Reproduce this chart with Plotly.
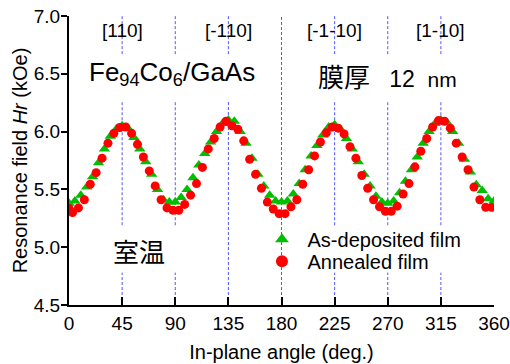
import plotly.graph_objects as go

# ---- data ----
asdep_angle = [0, 5, 10, 15, 20, 25, 30, 35, 40, 45, 50, 55, 60, 65, 70, 75, 80, 85, 90,
               95, 100, 105, 110, 115, 120, 125, 130, 135, 140, 145, 150, 155, 160, 165, 170, 175, 180,
               185, 190, 195, 200, 205, 210, 215, 220, 225, 230, 235, 240, 245, 250, 255, 260, 265, 270,
               275, 280, 285, 290, 295, 300, 305, 310, 315, 320, 325, 330, 335, 340, 345, 350, 355, 360]
asdep_hr = [5.38, 5.40, 5.45, 5.52, 5.61, 5.73, 5.85, 5.96, 6.02, 6.05, 6.03, 5.95, 5.85, 5.74, 5.63, 5.50, 5.41, 5.39, 5.39,
            5.43, 5.50, 5.60, 5.71, 5.81, 5.91, 6.00, 6.07, 6.10, 6.09, 6.00, 5.90, 5.77, 5.63, 5.53, 5.45, 5.40, 5.39,
            5.40, 5.46, 5.55, 5.67, 5.79, 5.88, 5.97, 6.04, 6.06, 6.02, 5.94, 5.85, 5.74, 5.63, 5.53, 5.44, 5.39, 5.38,
            5.40, 5.47, 5.57, 5.67, 5.78, 5.90, 6.00, 6.07, 6.10, 6.08, 6.00, 5.90, 5.76, 5.65, 5.54, 5.49, 5.42, 5.40]

anneal_angle = [0, 3, 8, 13, 18, 23, 28, 33, 38, 43, 48, 53, 58, 63, 68, 73, 78, 83, 88,
                93, 98, 103, 108, 113, 118, 123, 128, 133, 138, 143, 148, 153, 158, 163, 168, 173, 178,
                183, 188, 193, 198, 203, 208, 213, 218, 223, 228, 233, 238, 243, 248, 253, 258, 263, 268,
                273, 278, 283, 288, 293, 298, 303, 308, 313, 318, 323, 328, 333, 338, 343, 348, 353, 358]
anneal_hr = [5.335, 5.30, 5.34, 5.41, 5.545, 5.645, 5.77, 5.90, 5.985, 6.035, 6.04, 5.985, 5.89, 5.78, 5.66, 5.53, 5.41, 5.34, 5.32,
             5.32, 5.37, 5.45, 5.55, 5.69, 5.85, 5.94, 6.04, 6.09, 6.05, 6.02, 5.92, 5.76, 5.63, 5.51, 5.39, 5.33, 5.29,
             5.29, 5.35, 5.41, 5.545, 5.67, 5.79, 5.91, 5.99, 6.04, 6.03, 5.98, 5.87, 5.77, 5.62, 5.51, 5.41, 5.35, 5.31,
             5.31, 5.355, 5.46, 5.55, 5.695, 5.83, 5.94, 6.04, 6.095, 6.09, 6.03, 5.90, 5.78, 5.67, 5.52, 5.41, 5.345, 5.345]

x_ticks = [0, 45, 90, 135, 180, 225, 270, 315, 360]
dir_angles = [45, 135, 225, 315]
dir_labels = ["[110]", "[-110]", "[-1-10]", "[1-10]"]
guide_angles = [45, 90, 135, 180, 225, 270, 315]
series_names = ["\u00a0As-deposited film", "\u00a0Annealed film"]

FONT = "Liberation Sans, Arial, sans-serif"
CJK = "Liberation Sans, Noto Sans CJK JP, sans-serif"

fig = go.Figure()
fig.add_trace(go.Scatter(x=asdep_angle, y=asdep_hr, mode="markers", name=series_names[0], legend="legend",
                         marker=dict(symbol="triangle-up", size=10, color="rgb(0,190,0)")))
fig.add_trace(go.Scatter(x=anneal_angle, y=anneal_hr, mode="markers", name=series_names[1], legend="legend2",
                         marker=dict(symbol="circle", size=9, color="rgb(255,0,0)")))

# dashed guide lines, interrupted around the text blocks
top_gap = (6.27, 6.67)
bot_gap = (4.78, 5.19)
for a in guide_angles:
    cuts = []
    if a != 180:
        cuts.append(top_gap)
    if a not in (135, 180):
        cuts.append(bot_gap)
    cuts.sort()
    y0 = 4.5
    segs = []
    for lo, hi in cuts:
        segs.append((y0, lo))
        y0 = hi
    segs.append((y0, 7.0))
    for s0, s1 in segs:
        fig.add_shape(type="line", xref="x", yref="y", x0=a, x1=a, y0=s0, y1=s1,
                      line=dict(color="rgb(85,85,255)", width=1, dash="3px,2px"), layer="below")

for a, t in zip(dir_angles, dir_labels):
    fig.add_annotation(x=a, y=6.875, xref="x", yref="y", text=t, showarrow=False,
                       font=dict(family=FONT, size=19, color="black"))

fig.add_annotation(x=87, y=6.50, xref="x", yref="y", text="Fe<sub>94</sub>Co<sub>6</sub>/GaAs",
                   showarrow=False, font=dict(family=FONT, size=26, color="black"))
fig.add_annotation(x=270, y=6.46, xref="x", yref="y",
                   text="<span style='font-size:26px'>膜厚</span>\u00a0\u00a0\u00a012\u00a0\u00a0<span style='font-size:21px'>nm</span>",
                   showarrow=False, font=dict(family=CJK, size=23, color="black"))
fig.add_annotation(x=59, y=4.95, xref="x", yref="y", text="室温",
                   showarrow=False, font=dict(family=CJK, size=26, color="black"))

axis_common = dict(showline=True, linewidth=2, linecolor="black", showgrid=False, zeroline=False,
                   tickcolor="black", tickwidth=1.5, automargin=False)
plot_top_px, plot_bottom_px = 16, 305
fig.update_layout(
    width=510, height=364,
    margin=dict(l=69, r=16, t=plot_top_px, b=364 - plot_bottom_px),
    paper_bgcolor="white", plot_bgcolor="white",
    font=dict(family=FONT, size=19, color="black"),
    showlegend=True,
    legend=dict(x=0.454, y=0.295, xanchor="left", yanchor="top", bgcolor="rgba(0,0,0,0)",
                font=dict(family=FONT, size=20), itemsizing="constant"),
    legend2=dict(x=0.454, y=0.219, xanchor="left", yanchor="top", bgcolor="rgba(0,0,0,0)",
                 font=dict(family=FONT, size=20), itemsizing="constant"),
    xaxis=dict(range=[0, 360], tickvals=x_ticks, ticks="inside", ticklen=8,
               title=dict(text="In-plane angle (deg.)", font=dict(size=20), standoff=12),
               tickfont=dict(size=19), **axis_common),
    yaxis=dict(range=[4.5, 7.0], dtick=0.5, tickformat=".1f", ticks="outside", ticklen=6,
               ticklabelstandoff=-3,
               title=dict(text="Resonance field <i>Hr</i> (kOe)", font=dict(size=20), standoff=1),
               tickfont=dict(size=19), **axis_common),
    xaxis2=dict(overlaying="x", anchor="y", side="top", range=[0, 360], tickvals=[90, 180, 270],
                ticks="inside", ticklen=8, showticklabels=False, **axis_common),
    yaxis2=dict(overlaying="y", anchor="x", side="right", range=[4.5, 7.0], tickvals=[5.0, 5.5, 6.0, 6.5],
                ticks="inside", ticklen=7, showticklabels=False, **axis_common),
)

fig.write_html("out.html")
